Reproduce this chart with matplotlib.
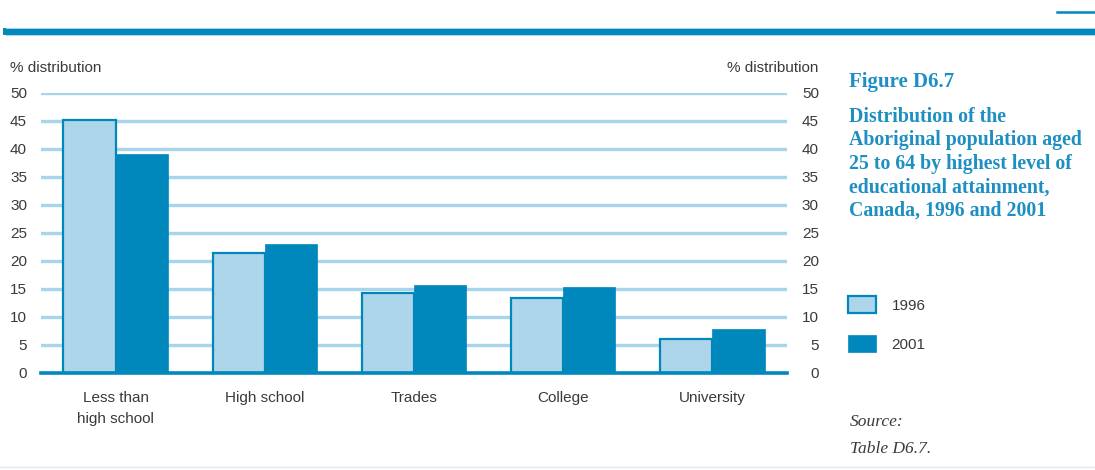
#plot.py

#COMMENT: Imports.

import matplotlib as mpl;
mpl.use("Agg");
import matplotlib.pyplot as plt;
import numpy as np;

#COMMENT: Data.

categories = ["Less than\nhigh school", "High school", "Trades", "College", "University"];
years = ["1996", "2001"];
share1996 = [45.2, 21.4, 14.2, 13.4, 6.1];
share2001 = [39.1, 23.0, 15.8, 15.3, 7.9];
yticks = [0, 5, 10, 15, 20, 25, 30, 35, 40, 45, 50];
titleLines = ["Distribution of the", "Aboriginal population aged", "25 to 64 by highest level of",
              "educational attainment,", "Canada, 1996 and 2001"];

#COMMENT: Colours.

darkBlue = "#0088bc";
lightBlue = "#aed6ea";
gridBlue = "#a9d5ec";
textGrey = "#3a3a3a";
titleBlue = "#1d8fc2";

mpl.rc('font', **{ 'family' : ['Liberation Sans Narrow', 'Liberation Sans', 'DejaVu Sans'], 'size' : 11 });

#COMMENT: Figure and axes placement (in figure fractions).

fig = plt.figure(figsize = (10.95, 4.70), dpi = 100);
ax = fig.add_axes([41 / 1095, 1 - 373 / 470, (787 - 41) / 1095, (373 - 93) / 470]);

#COMMENT: Grouped bars.

x = np.arange(len(categories));
width = 0.35;

ax.bar(x - width / 2, share1996, width, color = lightBlue, edgecolor = darkBlue, linewidth = 1.6, label = years[0], zorder = 3);
ax.bar(x + width / 2, share2001, width, color = darkBlue, edgecolor = darkBlue, linewidth = 0.5, label = years[1], zorder = 3);

ax.set_xlim(-0.5, 4.5);
ax.set_ylim(0, 50);

#COMMENT: Horizontal grid lines and thick base line.

for v in yticks[1:]:
    ax.axhline(v, color = gridBlue, linewidth = 2.4, zorder = 1);
ax.axhline(0, color = darkBlue, linewidth = 2.6, zorder = 4, clip_on = False);

for spine in ax.spines.values():
    spine.set_visible(False);

ax.set_xticks(x);
ax.set_xticklabels(categories, color = textGrey, fontsize = 11, linespacing = 1.6);
ax.set_yticks(yticks);
ax.set_yticklabels([str(v) for v in yticks], color = textGrey, fontsize = 11);
ax.tick_params(axis = 'x', length = 0, pad = 13);
ax.tick_params(axis = 'y', length = 0, pad = 10);

#COMMENT: Right-hand axis repeating the scale.

ax2 = ax.twinx();
ax2.set_ylim(0, 50);
ax2.set_yticks(yticks);
ax2.set_yticklabels([str(v) for v in yticks], color = textGrey, fontsize = 11);
ax2.tick_params(axis = 'y', length = 0, pad = 23);
for lab in ax2.get_yticklabels():
    lab.set_horizontalalignment('right');
for spine in ax2.spines.values():
    spine.set_visible(False);

#COMMENT: Axis captions.

fig.text(10 / 1095, 1 - 68 / 470, "% distribution", color = textGrey, fontsize = 11, va = 'center', ha = 'left');
fig.text(818 / 1095, 1 - 68 / 470, "% distribution", color = textGrey, fontsize = 11, va = 'center', ha = 'right');

#COMMENT: Title block on the right, one line at a time.

serif = ['Liberation Serif', 'DejaVu Serif'];
fig.text(849 / 1095, 1 - 87 / 470, "Figure D6.7", color = titleBlue, fontsize = 15, fontweight = 'bold', family = serif, va = 'baseline');
for i, line in enumerate(titleLines):
    fig.text(849 / 1095, 1 - (121.7 + 23.5 * i) / 470, line, color = titleBlue, fontsize = 14.3,
             fontweight = 'bold', family = serif, va = 'baseline');

#COMMENT: Legend.

fig.legend(loc = 'upper left', bbox_to_anchor = (848 / 1095, 1 - 296 / 470), frameon = False,
           fontsize = 11, borderpad = 0, borderaxespad = 0, handlelength = 1.85, handleheight = 1.35,
           handletextpad = 1.0, labelspacing = 1.45, labelcolor = textGrey);

#COMMENT: Source note.

fig.text(850 / 1095, 1 - 422 / 470, "Source:", color = textGrey, fontsize = 12.5, style = 'italic', family = serif, va = 'center');
fig.text(850 / 1095, 1 - 449 / 470, "Table D6.7.", color = textGrey, fontsize = 12.5, style = 'italic', family = serif, va = 'center');

#COMMENT: Decorative rules across the top and bottom.

fig.add_artist(plt.Line2D([6 / 1095, 1], [1 - 31 / 470, 1 - 31 / 470], color = darkBlue, linewidth = 5.0));
fig.add_artist(plt.Line2D([6 / 1095, 1], [1 - 27.5 / 470, 1 - 27.5 / 470], color = gridBlue, linewidth = 0.7));
fig.add_artist(plt.Line2D([6 / 1095, 1], [1 - 34.5 / 470, 1 - 34.5 / 470], color = gridBlue, linewidth = 0.7));
fig.add_artist(plt.Line2D([1057 / 1095, 1], [1 - 12 / 470, 1 - 12 / 470], color = darkBlue, linewidth = 1.8));
fig.add_artist(plt.Line2D([0, 1], [1 - 467 / 470, 1 - 467 / 470], color = "#dfe9ef", linewidth = 1.0));

#COMMENT: Save.

plt.savefig("out.png", format = 'png', dpi = 100);
plt.close();
